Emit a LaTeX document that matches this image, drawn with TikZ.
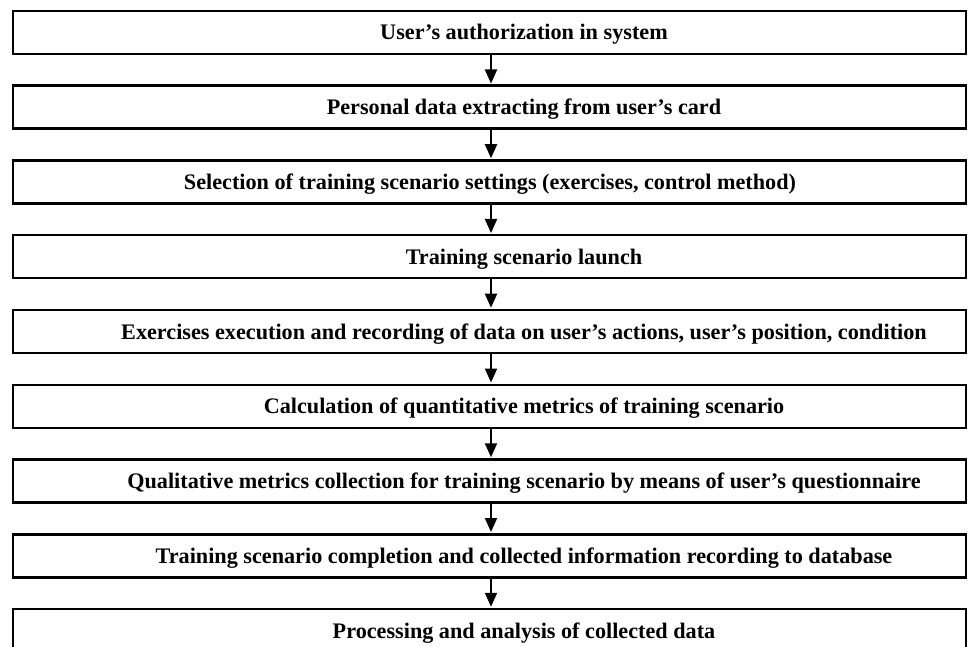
\documentclass[tikz,border=0pt]{standalone}
\usepackage{fontspec}
\setmainfont{Liberation Serif}
\usetikzlibrary{arrows.meta}
\begin{document}
\begin{tikzpicture}[x=1pt,y=-1pt,
  stepbox/.style={draw=black,line width=2.5pt,rectangle,minimum width=953pt,minimum height=43pt,inner sep=0pt},
  txt/.style={anchor=base,inner sep=0pt,font=\fontsize{22.2}{26}\selectfont\bfseries},
  arr/.style={line width=2pt,-{Triangle[length=14pt,width=12pt]}}]
\useasboundingbox (0,0) rectangle (970,647);
\clip (0,0) rectangle (970,647);
\foreach \i in {1,...,9}{
  \node[stepbox] (b\i) at (489.5,{32.5+74.75*(\i-1)}) {};
}
\node[txt] (t1) at (524,{10+30+74.75*0}) {User’s authorization in system};
\node[txt] (t2) at (524,{10+30+74.75*1}) {Personal data extracting from user’s card};
\node[txt] (t3) at (490,{10+30+74.75*2}) {Selection of training scenario settings (exercises, control method)};
\node[txt] (t4) at (524,{10+30+74.75*3}) {Training scenario launch};
\node[txt] (t5) at (524,{10+30+74.75*4}) {Exercises execution and recording of data on user’s actions, user’s position, condition};
\node[txt] (t6) at (524,{10+30+74.75*5}) {Calculation of quantitative metrics of training scenario};
\node[txt] (t7) at (524,{10+30+74.75*6}) {Qualitative metrics collection for training scenario by means of user’s questionnaire};
\node[txt] (t8) at (524,{10+30+74.75*7}) {Training scenario completion and collected information recording to database};
\node[txt] (t9) at (524,{10+30+74.75*8}) {Processing and analysis of collected data};
\foreach \i [evaluate=\i as \j using int(\i+1)] in {1,...,8}{
  \draw[arr] ([xshift=1.5pt]b\i.south) -- ([xshift=1.5pt,yshift=1pt]b\j.north);
}
\end{tikzpicture}
\end{document}
